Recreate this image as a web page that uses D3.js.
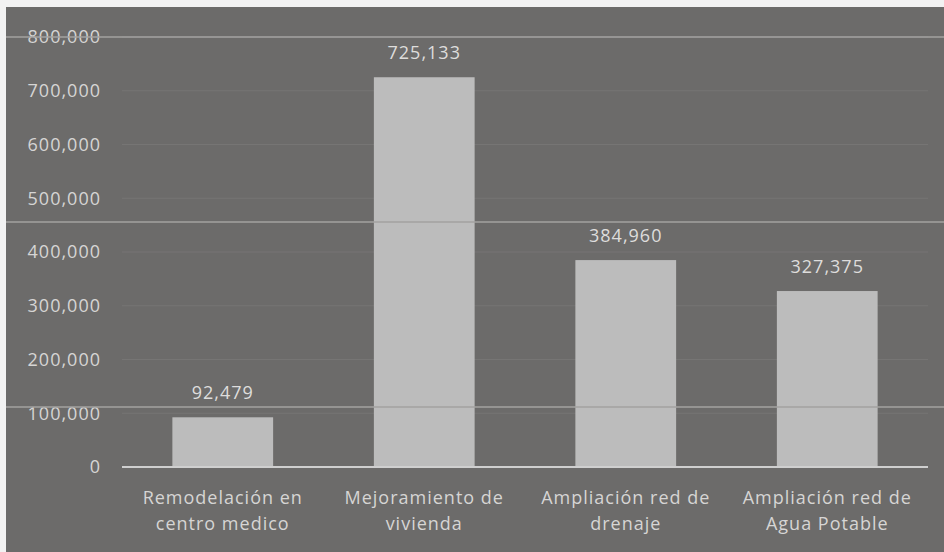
<!DOCTYPE html>
<html>
<head>
<meta charset="utf-8">
<script src="https://cdn.jsdelivr.net/npm/d3@7"></script>
<style>
  html, body { margin: 0; padding: 0; background: #f2f2f2; }
  svg { display: block; }
</style>
</head>
<body>
<div id="chart"></div>
<script>
const categories = [
    ["Remodelación en", "centro medico"],
    ["Mejoramiento de", "vivienda"],
    ["Ampliación red de", "drenaje"],
    ["Ampliación red de", "Agua Potable"]
];
const values = [92479, 725133, 384960, 327375];
const yTicks = [0, 100000, 200000, 300000, 400000, 500000, 600000, 700000, 800000];

// page and plot layout
const W = 944, H = 552;
const margin = { top: 37, right: 16, bottom: 85, left: 122 };
const width = W - margin.left - margin.right;
const height = H - margin.top - margin.bottom;

const svg = d3.select("#chart").append("svg")
    .attr("width", W)
    .attr("height", H);

// dark printed panel (white paper shows at top and left)
svg.append("rect")
    .attr("x", 6)
    .attr("y", 7)
    .attr("width", W - 6)
    .attr("height", H - 7)
    .style("fill", "#6c6b6a");

const g = svg.append("g")
    .attr("transform", `translate(${margin.left}, ${margin.top})`);

const xScale = d3.scaleBand()
    .domain(d3.range(categories.length))
    .range([0, width])
    .paddingInner(0.5)
    .paddingOuter(0.25);

const yScale = d3.scaleLinear()
    .domain([0, 800000])
    .range([height, 0]);

const fmt = d3.format(",");

function textStyle(sel) {
    sel.style("font-family", "Open Sans")
        .style("font-size", "18px")
        .style("letter-spacing", "1px");
}

// faint gridlines
g.selectAll(".grid")
    .data(yTicks.filter(t => t > 0))
    .enter().append("line")
    .attr("x1", 0)
    .attr("x2", width)
    .attr("y1", d => yScale(d))
    .attr("y2", d => yScale(d))
    .style("stroke", "#767574")
    .style("stroke-width", 1);

// bright fold lines from the print, running across the whole panel
[0, 185, 370].forEach(off => {
    svg.append("line")
        .attr("x1", 6)
        .attr("x2", W)
        .attr("y1", margin.top + off)
        .attr("y2", margin.top + off)
        .style("stroke", "#a3a2a1")
        .style("stroke-width", 1.5);
});

// bars
g.selectAll(".bar")
    .data(values)
    .enter().append("rect")
    .attr("class", "bar")
    .attr("x", (d, i) => xScale(i))
    .attr("y", d => yScale(d))
    .attr("width", xScale.bandwidth())
    .attr("height", d => height - yScale(d))
    .style("fill", "#bcbcbc");

// value labels
g.selectAll(".val")
    .data(values)
    .enter().append("text")
    .attr("x", (d, i) => xScale(i) + xScale.bandwidth() / 2)
    .attr("y", d => yScale(d) - 18)
    .style("fill", "#dedddc")
    .style("text-anchor", "middle")
    .call(textStyle)
    .text(d => fmt(d));

// baseline
g.append("line")
    .attr("x1", 0)
    .attr("x2", width)
    .attr("y1", height)
    .attr("y2", height)
    .style("stroke", "#cfcfcf")
    .style("stroke-width", 2);

// y axis labels
const yAxis = g.append("g")
    .call(d3.axisLeft(yScale).tickValues(yTicks).tickFormat(fmt).tickSize(0).tickPadding(21));
yAxis.select(".domain").remove();
yAxis.selectAll("text")
    .style("fill", "#d6d5d4")
    .call(textStyle);

// category labels
const cat = g.selectAll(".cat")
    .data(categories)
    .enter().append("text")
    .attr("x", (d, i) => xScale(i) + xScale.bandwidth() / 2)
    .attr("y", height + 37)
    .style("fill", "#d6d5d4")
    .style("text-anchor", "middle")
    .call(textStyle);

cat.selectAll("tspan")
    .data(d => d)
    .enter().append("tspan")
    .attr("x", function() { return this.parentNode.getAttribute("x"); })
    .attr("dy", (d, i) => i === 0 ? 0 : 26)
    .text(d => d);
</script>
</body>
</html>
